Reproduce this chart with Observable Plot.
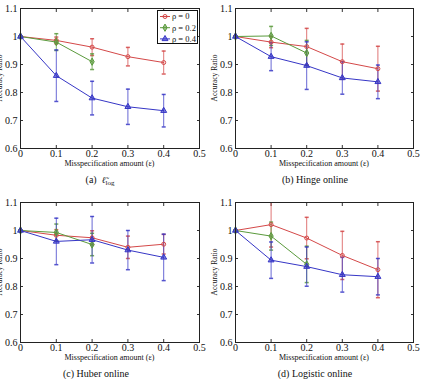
<!DOCTYPE html>
<html><head><meta charset="utf-8">
<script src="https://cdn.jsdelivr.net/npm/d3@7"></script>
<script src="https://cdn.jsdelivr.net/npm/@observablehq/plot@0.6"></script>
<style>
body{margin:0;background:#fff;width:421px;height:379px;overflow:hidden;position:relative;font-family:"Liberation Serif",serif;color:#111;}
.cell{position:absolute;}
.ylab{position:absolute;font-size:7.5px;line-height:1;white-space:nowrap;transform:translate(-50%,-50%) rotate(-90deg);}
.xlab{position:absolute;font-size:8px;line-height:1;white-space:nowrap;transform:translate(-50%,-50%);}
.cap{position:absolute;font-size:10px;line-height:1;white-space:nowrap;transform:translate(-50%,-50%);}
.legend{position:absolute;border:1px solid #111;background:#fff;}
</style>
</head><body>
<div id="root"></div>
<script>
// ---- data ----
const eps = [0, 0.1, 0.2, 0.3, 0.4];
const rhoLabels = ["ρ = 0", "ρ = 0.2", "ρ = 0.4"];
const xTicks = [0, 0.1, 0.2, 0.3, 0.4, 0.5];
const xTickLabels = ["0", "0.1", "0.2", "0.3", "0.4", "0.5"];
const yTicks = [0.6, 0.7, 0.8, 0.9, 1, 1.1];
const yTickLabels = ["0.6", "0.7", "0.8", "0.9", "1", "1.1"];
const xTitle = "Misspecification amount (ε)";
const yTitle = "Accuracy Ratio";

// (a) l~log
const aRho0 = [1, 0.986, 0.962, 0.928, 0.907];
const aRho0Err = [0, 0.012, 0.03, 0.033, 0.041];
const aRho02 = [1, 0.98, 0.91];
const aRho02Err = [0, 0.03, 0.028];
const aRho04 = [1, 0.86, 0.78, 0.749, 0.735];
const aRho04Err = [0, 0.092, 0.06, 0.063, 0.058];
// (b) Hinge online
const bRho0 = [1, 0.98, 0.964, 0.91, 0.885];
const bRho0Err = [0, 0.02, 0.065, 0.063, 0.08];
const bRho02 = [1, 1.002, 0.941];
const bRho02Err = [0, 0.034, 0.045];
const bRho04 = [1, 0.928, 0.896, 0.852, 0.838];
const bRho04Err = [0, 0.05, 0.085, 0.058, 0.06];
// (c) Huber online
const cRho0 = [1, 0.983, 0.974, 0.94, 0.951];
const cRho0Err = [0, 0.02, 0.025, 0.04, 0.035];
const cRho02 = [1, 0.993, 0.95];
const cRho02Err = [0, 0.03, 0.04];
const cRho04 = [1, 0.961, 0.967, 0.93, 0.904];
const cRho04Err = [0, 0.083, 0.083, 0.07, 0.083];
// (d) Logistic online
const dRho0 = [1, 1.021, 0.973, 0.911, 0.86];
const dRho0Err = [0, 0.08, 0.074, 0.086, 0.1];
const dRho02 = [1, 0.98, 0.879];
const dRho02Err = [0, 0.05, 0.065];
const dRho04 = [1, 0.894, 0.871, 0.842, 0.835];
const dRho04Err = [0, 0.065, 0.07, 0.062, 0.065];

// ---- styles ----
const colors = ["#d44848", "#5a9a3c", "#3636c6"];
const symbols = ["circle", "diamond", "triangle"];
const fills = ["none", "#5a9a3c", "#3636c6"];

const capSymbol = {draw(ctx, size) { const w = Math.sqrt(size / Math.PI); ctx.moveTo(-w, 0); ctx.lineTo(w, 0); }};

function panel(cfg) {
  const series = [[cfg.m0, cfg.e0], [cfg.m2, cfg.e2], [cfg.m4, cfg.e4]];
  const marks = [];
  series.forEach(([m, e], i) => {
    const rows = m.map((v, j) => ({x: eps[j], y: v, lo: v - e[j], hi: v + e[j], e: e[j]}));
    const er = rows.filter(d => d.e > 0);
    marks.push(Plot.ruleX(er, {x: "x", y1: "lo", y2: "hi", stroke: colors[i], strokeOpacity: 0.75, strokeWidth: 1, clip: true}));
    marks.push(Plot.dot(er, {x: "x", y: "lo", symbol: capSymbol, r: 2, stroke: colors[i], fill: "none", strokeOpacity: 0.85, clip: true}));
    marks.push(Plot.dot(er, {x: "x", y: "hi", symbol: capSymbol, r: 2, stroke: colors[i], fill: "none", strokeOpacity: 0.85, clip: true}));
  });
  series.forEach(([m], i) => {
    const rows = m.map((v, j) => ({x: eps[j], y: v}));
    marks.push(Plot.line(rows, {x: "x", y: "y", stroke: colors[i], strokeWidth: 1}));
    marks.push(Plot.dot(rows, {x: "x", y: "y", symbol: symbols[i], r: i === 0 ? 2 : 2.2, stroke: colors[i], fill: fills[i], fillOpacity: 0.6, strokeWidth: 1}));
  });
  const svg = Plot.plot({
    width: cfg.width, height: 172,
    marginTop: 8, marginBottom: 24, marginLeft: cfg.ml, marginRight: cfg.mr,
    x: {domain: [0, 0.5]},
    y: {domain: [0.6, 1.1]},
    style: {fontFamily: '"Liberation Serif", serif', fontSize: "10px", background: "none", color: "#111"},
    marks: [
      Plot.axisX({anchor: "bottom", ticks: xTicks, tickSize: -3, tickFormat: () => "", label: null, stroke: "#333"}),
      Plot.axisX({anchor: "top", ticks: xTicks, tickSize: -3, tickFormat: () => "", label: null, stroke: "#333"}),
      Plot.axisY({anchor: "left", ticks: yTicks, tickSize: -3, tickFormat: () => "", label: null, stroke: "#333"}),
      Plot.axisY({anchor: "right", ticks: yTicks, tickSize: -3, tickFormat: () => "", label: null, stroke: "#333"}),
      Plot.axisX({anchor: "bottom", ticks: xTicks, tickSize: 0, tickPadding: 1, tickFormat: d => xTickLabels[xTicks.indexOf(d)], label: null}),
      Plot.axisY({anchor: "left", ticks: yTicks, tickSize: 0, tickPadding: 3, tickFormat: d => yTickLabels[yTicks.indexOf(d)], label: null}),
      ...marks,
      Plot.frame({stroke: "#222", strokeWidth: 1})
    ]
  });
  const cell = document.createElement("div");
  cell.className = "cell";
  cell.style.left = cfg.left + "px";
  cell.style.top = cfg.top + "px";
  cell.style.width = cfg.width + "px";
  cell.style.height = "194px";
  cell.appendChild(svg);
  const yl = document.createElement("div");
  yl.className = "ylab"; yl.textContent = yTitle;
  yl.style.left = (cfg.ml - 20) + "px"; yl.style.top = "78px";
  cell.appendChild(yl);
  const xl = document.createElement("div");
  xl.className = "xlab"; xl.textContent = xTitle;
  xl.style.left = (cfg.ml + (cfg.width - cfg.ml - cfg.mr) / 2) + "px"; xl.style.top = "163.5px";
  cell.appendChild(xl);
  const cp = document.createElement("div");
  cp.className = "cap"; cp.innerHTML = cfg.caption;
  cp.style.left = cfg.capX + "px"; cp.style.top = "180px";
  cell.appendChild(cp);
  document.getElementById("root").appendChild(cell);
  return cell;
}

const cellA = panel({m0: aRho0, e0: aRho0Err, m2: aRho02, e2: aRho02Err, m4: aRho04, e4: aRho04Err,
  left: 0, top: 0, width: 210, ml: 20, mr: 11, capX: 100,
  caption: '(a)&nbsp;&nbsp;<span style="font-family:\'DejaVu Serif\',serif;font-style:italic;font-size:9px">ℓ̃</span><span style="font-size:7px;position:relative;top:2px">log</span>'});
panel({m0: bRho0, e0: bRho0Err, m2: bRho02, e2: bRho02Err, m4: bRho04, e4: bRho04Err,
  left: 210, top: 0, width: 211, ml: 25, mr: 8, capX: 105, caption: "(b) Hinge online"});
panel({m0: cRho0, e0: cRho0Err, m2: cRho02, e2: cRho02Err, m4: cRho04, e4: cRho04Err,
  left: 0, top: 194, width: 210, ml: 20, mr: 11, capX: 96, caption: "(c) Huber online"});
panel({m0: dRho0, e0: dRho0Err, m2: dRho02, e2: dRho02Err, m4: dRho04, e4: dRho04Err,
  left: 210, top: 194, width: 211, ml: 25, mr: 8, capX: 105, caption: "(d) Logistic online"});

// legend in panel (a)
const leg = d3.select(cellA).append("div").attr("class", "legend")
  .style("left", "157px").style("top", "10px").style("width", "39px").style("height", "32px");
const ls = leg.append("svg").attr("width", 39).attr("height", 32).style("display", "block");
rhoLabels.forEach((lab, i) => {
  const y = 5.5 + i * 11.2;
  ls.append("line").attr("x1", 2).attr("x2", 12).attr("y1", y).attr("y2", y).attr("stroke", colors[i]).attr("stroke-width", 1);
  const sym = [d3.symbolCircle, d3.symbolDiamond, d3.symbolTriangle][i];
  const r = i === 0 ? 2 : 2.2;
  ls.append("path").attr("d", d3.symbol(sym, Math.PI * r * r)()).attr("transform", `translate(7,${y})`)
    .attr("stroke", colors[i]).attr("fill", fills[i]).attr("fill-opacity", 0.6);
  ls.append("text").attr("x", 14).attr("y", y).attr("dy", "0.35em").attr("font-size", "8.5px")
    .attr("font-family", '"Liberation Serif", serif').attr("fill", "#111").text(lab);
});
</script>
</body></html>
